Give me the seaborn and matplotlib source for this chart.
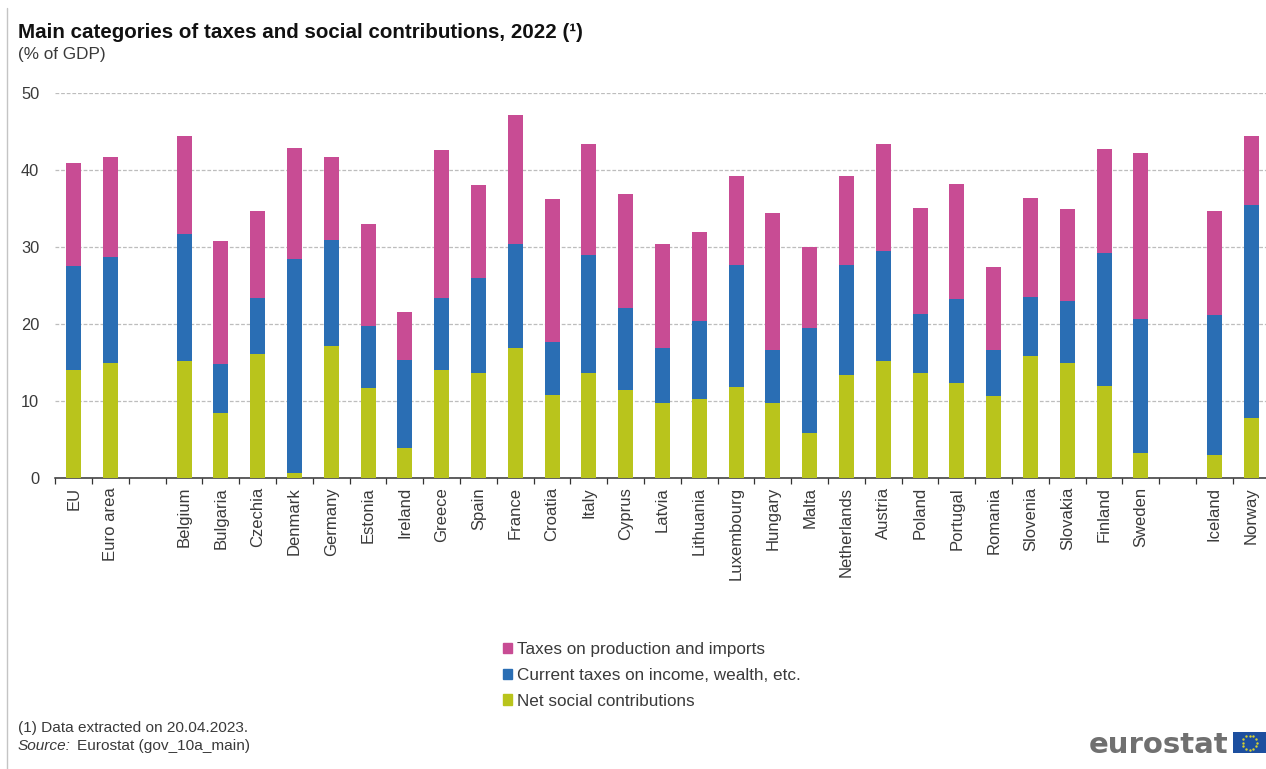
import numpy as np
import matplotlib
matplotlib.use("Agg")
import matplotlib.pyplot as plt
from matplotlib.lines import Line2D
from matplotlib.patches import Patch
import seaborn as sns

countries = ["EU", "Euro area", "Belgium", "Bulgaria", "Czechia", "Denmark", "Germany",
             "Estonia", "Ireland", "Greece", "Spain", "France", "Croatia", "Italy", "Cyprus",
             "Latvia", "Lithuania", "Luxembourg", "Hungary", "Malta", "Netherlands", "Austria",
             "Poland", "Portugal", "Romania", "Slovenia", "Slovakia", "Finland", "Sweden",
             "Iceland", "Norway"]
# Axis order, with empty slots separating the aggregates, the members and EFTA
axis_order = ["EU", "Euro area", " ", "Belgium", "Bulgaria", "Czechia", "Denmark", "Germany",
              "Estonia", "Ireland", "Greece", "Spain", "France", "Croatia", "Italy", "Cyprus",
              "Latvia", "Lithuania", "Luxembourg", "Hungary", "Malta", "Netherlands", "Austria",
              "Poland", "Portugal", "Romania", "Slovenia", "Slovakia", "Finland", "Sweden",
              "  ", "Iceland", "Norway"]
net_social = [13.95, 14.95, 15.1, 8.4, 16.0, 0.6, 17.1, 11.6, 3.9, 13.95, 13.6, 16.8, 10.7, 13.6,
              11.4, 9.75, 10.25, 11.8, 9.75, 5.75, 13.3, 15.1, 13.6, 12.25, 10.6, 15.8, 14.95,
              11.95, 3.2, 2.9, 7.75]
income_wealth = [13.5, 13.7, 16.6, 6.4, 7.3, 27.75, 13.8, 8.05, 11.4, 9.35, 12.4, 13.55, 6.95,
                 15.3, 10.7, 7.05, 10.05, 15.85, 6.85, 13.75, 14.35, 14.4, 7.7, 10.95, 6.0, 7.7,
                 8.05, 17.25, 17.45, 18.2, 27.65]
production_imports = [13.4, 13.0, 12.7, 15.9, 11.4, 14.55, 10.8, 13.25, 6.2, 19.3, 12.0, 16.75,
                      18.55, 14.5, 14.8, 13.55, 11.6, 11.55, 17.8, 10.5, 11.55, 13.9, 13.7, 15.0,
                      10.75, 12.9, 11.9, 13.5, 21.6, 13.6, 9.0]
series_names = ["Taxes on production and imports", "Current taxes on income, wealth, etc.",
                "Net social contributions"]

LIME, BLUE, MAGENTA = "#b9c41c", "#2a6eb4", "#c84c94"
TEXT = "#3a3a3a"

W, H = 1266, 769
sns.set_theme(style="white")
plt.rcParams["font.family"] = ["Liberation Sans", "DejaVu Sans"]

fig = plt.figure(figsize=(W / 100, H / 100), dpi=100)
x0, x1, ytop, ybot = 55.3, 1266, 93, 477.5
ax = fig.add_axes([x0 / W, 1 - ybot / H, (x1 - x0) / W, (ybot - ytop) / H])

net = np.array(net_social)
income = np.array(income_wealth)
prod = np.array(production_imports)
common = dict(x=countries, order=axis_order, width=0.41, saturation=1, ax=ax, zorder=3,
              linewidth=0)
sns.barplot(y=net, color=LIME, **common)
sns.barplot(y=income, bottom=net, color=BLUE, **common)
sns.barplot(y=prod, bottom=net + income, color=MAGENTA, **common)

ax.set_xlim(-0.5, 32.4)
ax.set_ylim(0, 50)
ax.set_xlabel("")
ax.set_ylabel("")
ax.set_yticks([0, 10, 20, 30, 40, 50])
ax.grid(axis="y", color="#bdbdbd", linestyle=(0, (3, 1.5)), linewidth=0.9, zorder=0)
ax.grid(axis="x", visible=False)
ax.set_axisbelow(True)
ax.tick_params(axis="y", length=0, pad=11.5, labelsize=11.8, labelcolor=TEXT)
ax.set_xticks(range(len(axis_order)))
ax.set_xticklabels(axis_order, rotation=90, ha="center", va="top")
ax.tick_params(axis="x", which="major", length=0, pad=6.8, labelsize=12, labelcolor=TEXT)
ax.set_xticks(np.arange(-0.5, 32.4), minor=True)
ax.tick_params(axis="x", which="minor", bottom=True, length=4.5, width=0.9, color="#333333")
for side in ("left", "right", "top"):
    ax.spines[side].set_visible(False)
ax.spines["bottom"].set_color("#333333")
ax.spines["bottom"].set_linewidth(1.1)

handles = [Patch(color=c) for c in (MAGENTA, BLUE, LIME)]
fig.legend(handles, series_names, loc="upper left",
           bbox_to_anchor=(503 / W, 1 - 642 / H), frameon=False, fontsize=12.3,
           labelcolor=TEXT, handlelength=0.53, handleheight=0.53, handletextpad=0.3,
           labelspacing=0.63, borderpad=0, borderaxespad=0)

def place(px, py, s, **kw):
    return fig.text(px / W, 1 - py / H, s, **kw)

place(18, 32.5, "Main categories of taxes and social contributions, 2022 (¹)",
      fontsize=14.8, fontweight="bold", color="#111111", va="center")
place(18, 55, "(% of GDP)", fontsize=12.3, color=TEXT, va="center")
place(18, 728, "(1) Data extracted on 20.04.2023.", fontsize=11.1, color=TEXT, va="center")
place(18, 746, "Source:", fontsize=11.1, color=TEXT, va="center", style="italic")
place(77, 746, "Eurostat (gov_10a_main)", fontsize=11.1, color=TEXT, va="center")

# Frame rule down the left edge
fig.add_artist(Line2D([7.5 / W, 7.5 / W], [0, 1 - 8 / H], color="#c4c4c4", linewidth=1))

# Publisher mark: wordmark and flag
place(1228, 753, "eurostat", fontsize=21, fontweight="bold", color="#707070",
      family="DejaVu Sans", ha="right", va="baseline")
flag_ax = fig.add_axes([1233 / W, 1 - 753 / H, 33 / W, 21 / H])
flag_ax.set_xticks([])
flag_ax.set_yticks([])
flag_ax.set_facecolor("#1d4f9f")
for spine in flag_ax.spines.values():
    spine.set_visible(False)
flag_ax.set_xlim(-16.5, 16.5)
flag_ax.set_ylim(-10.5, 10.5)
angles = np.deg2rad(np.arange(0, 360, 30))
flag_ax.scatter(7 * np.cos(angles), 7 * np.sin(angles), s=3, color="#d9d22e", linewidths=0)

fig.savefig("out.png", dpi=100)
